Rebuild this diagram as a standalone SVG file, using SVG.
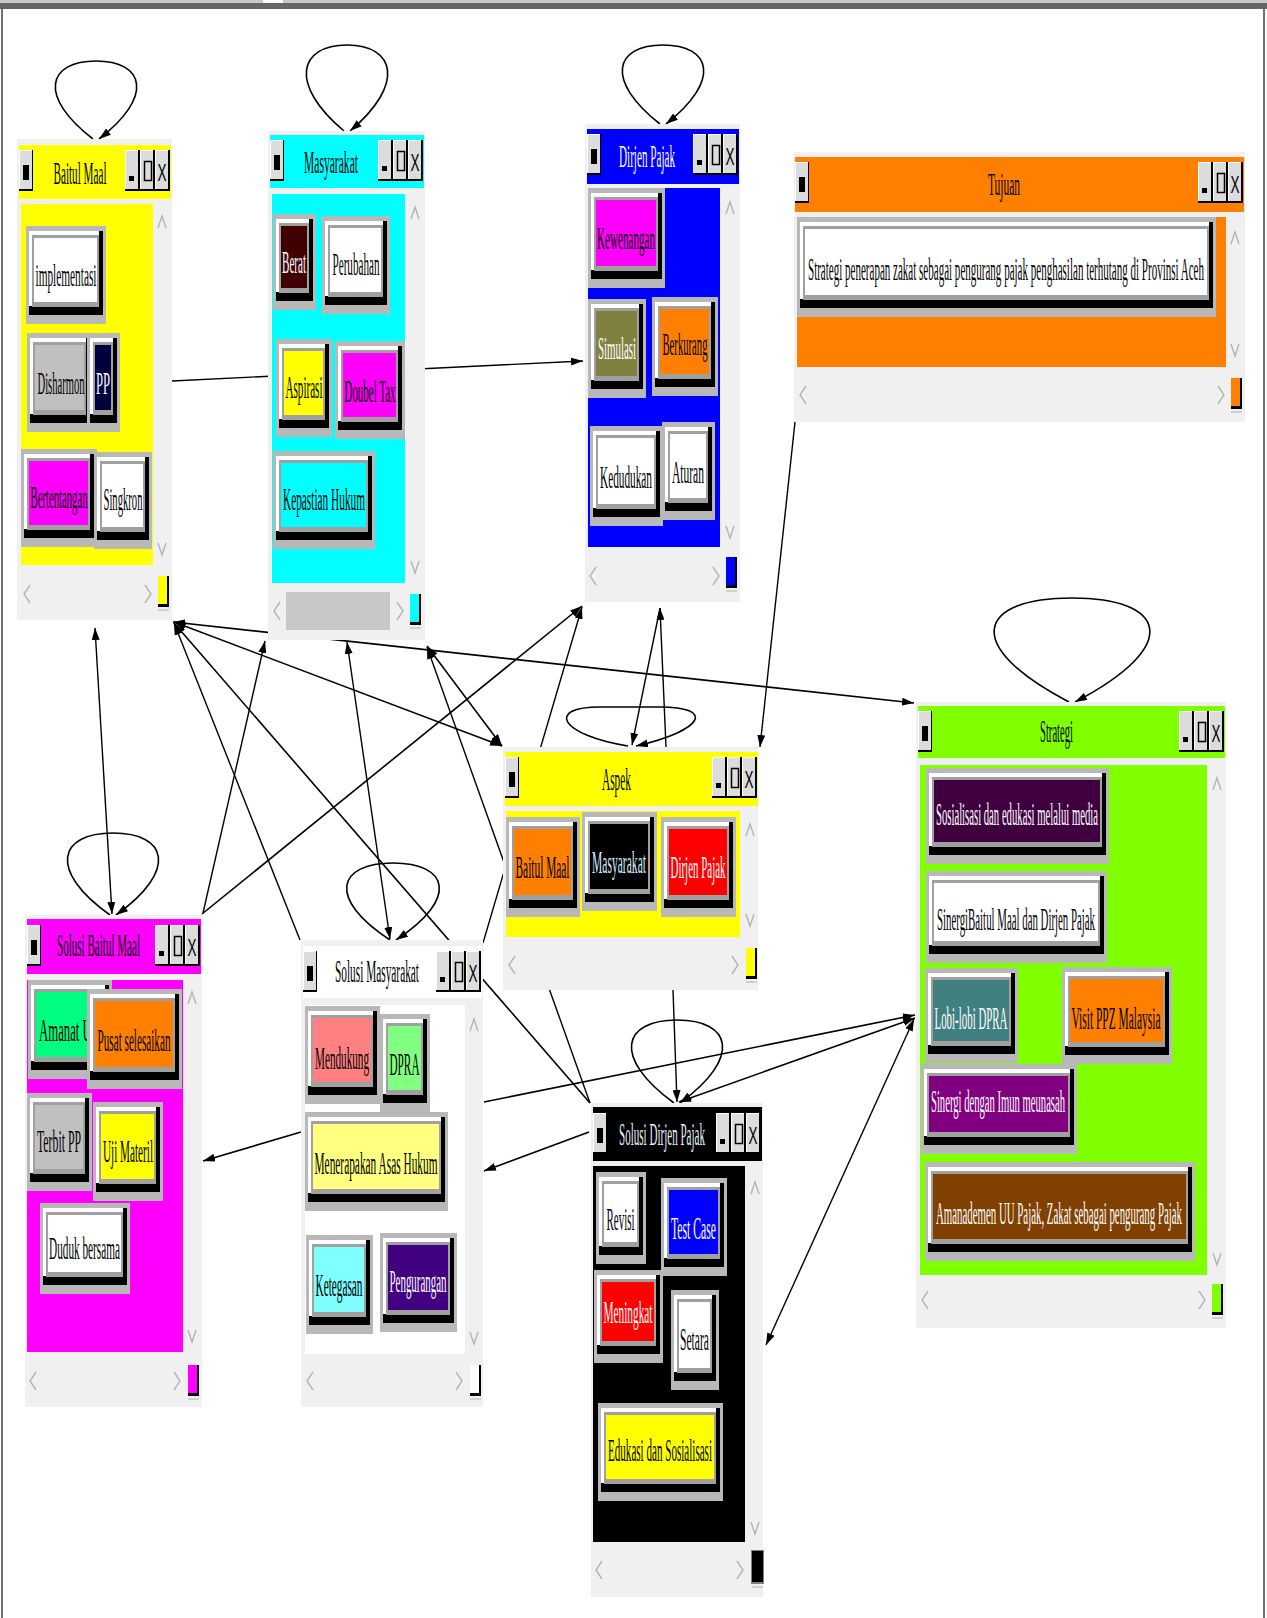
<svg xmlns="http://www.w3.org/2000/svg" width="1267" height="1618" viewBox="0 0 1267 1618">
<style>
  .fr{fill:#f0f0f0}
  .bf{fill:#b8b8b8}
  .bk{fill:#000}
  .wh{fill:#fff}
  .gy{fill:#a0a0a0}
  .t{font-family:"Liberation Serif","Times New Roman",serif;font-size:31px;text-anchor:middle;fill:#000}
  .tw{fill:#fff}
  .ln{stroke:#000;stroke-width:1.4;fill:none}
  .lp{stroke:#000;stroke-width:1.6;fill:none}
  .ch{stroke:#b4b4b4;stroke-width:1.4;fill:none}
  .cs{fill:#d0d0d0}
</style>
<defs>
  <marker id="ah" viewBox="0 0 12 8" refX="12" refY="4" markerWidth="12" markerHeight="8" markerUnits="userSpaceOnUse" orient="auto-start-reverse">
    <path d="M0,0 L12,4 L0,8 z" fill="#000"/>
  </marker>
  <!-- title bar controls: minimise, maximise, close -->
  <g id="ctl">
    <rect width="45" height="41" fill="#000"/>
    <rect x="0" width="13" height="39" fill="#fff"/><rect x="1" y="1" width="12" height="38" fill="#dcdcdc"/>
    <rect x="15" width="13" height="39" fill="#fff"/><rect x="16" y="1" width="12" height="38" fill="#dcdcdc"/>
    <rect x="30" width="13" height="39" fill="#fff"/><rect x="31" y="1" width="12" height="38" fill="#dcdcdc"/>
    <rect x="4" y="26" width="5" height="5" fill="#000"/>
    <rect x="19.5" y="11.5" width="7" height="19" fill="none" stroke="#000" stroke-width="1.5"/>
    <text x="37" y="31" font-family="Liberation Sans,Arial,sans-serif" font-size="24" text-anchor="middle" textLength="9" lengthAdjust="spacingAndGlyphs">X</text>
  </g>
  <!-- system menu button -->
  <g id="sys">
    <rect width="14" height="41" fill="#000"/>
    <rect width="13" height="39" fill="#fff"/>
    <rect x="1" y="1" width="12" height="38" fill="#dcdcdc"/>
    <rect x="4" y="15" width="6" height="15" fill="#000"/>
  </g>
  <!-- scrollbar chevrons -->
  <polyline id="up" class="ch" points="-4,6 0,-6 4,6"/>
  <polyline id="dn" class="ch" points="-4,-6 0,6 4,-6"/>
  <polyline id="lt" class="ch" points="3,-9 -3,0 3,9"/>
  <polyline id="rt" class="ch" points="-3,-9 3,0 -3,9"/>
</defs>

<!-- canvas -->
<rect width="1267" height="1618" fill="#fff"/>
<rect width="1267" height="3" fill="#c8c8c8"/>
<rect y="3" width="1267" height="6" fill="#666"/>
<rect x="263" width="20" height="3" fill="#fff"/>
<rect x="1" y="9" width="2" height="1609" fill="#707070"/>
<rect x="1263" y="9" width="2" height="1609" fill="#707070"/>

<g id="connectors">
  <path class="ln" d="M172,381 L583,361" marker-end="url(#ah)"/>
  <path class="ln" d="M795,422 L760,747" marker-end="url(#ah)"/>
  <path class="lp" d="M173,622 L914,703" marker-start="url(#ah)" marker-end="url(#ah)"/>
  <path class="lp" d="M174,622 L502,746" marker-start="url(#ah)" marker-end="url(#ah)"/>
  <path class="ln" d="M300,940 L174,623" marker-end="url(#ah)"/>
  <path class="lp" d="M174,623 L590,1103" marker-start="url(#ah)"/>
  <path class="ln" d="M95,628 L112,914" marker-start="url(#ah)" marker-end="url(#ah)"/>
  <path class="ln" d="M203,913 L265,641" marker-end="url(#ah)"/>
  <path class="ln" d="M390,939 L347,642" marker-start="url(#ah)" marker-end="url(#ah)"/>
  <path class="lp" d="M427,646 L502,746" marker-start="url(#ah)" marker-end="url(#ah)"/>
  <path class="ln" d="M590,1103 L427,647" marker-end="url(#ah)"/>
  <path class="lp" d="M202,914 L582,606" marker-end="url(#ah)"/>
  <path class="ln" d="M483,943 L582,607" marker-end="url(#ah)"/>
  <path class="ln" d="M660,608 L632,745" marker-end="url(#ah)"/>
  <path class="ln" d="M666,747 L660,608" marker-end="url(#ah)"/>
  <path class="ln" d="M673,990 L677,1102" marker-end="url(#ah)"/>
  <path class="lp" d="M301,1132 L203,1161" marker-end="url(#ah)"/>
  <path class="lp" d="M589,1132 L484,1171" marker-end="url(#ah)"/>
  <path class="lp" d="M484,1102 L915,1015" marker-end="url(#ah)"/>
  <path class="lp" d="M915,1018 L679,1102" marker-start="url(#ah)" marker-end="url(#ah)"/>
  <path class="ln" d="M914,1019 L766,1345" marker-start="url(#ah)" marker-end="url(#ah)"/>
  <!-- self loops -->
  <path class="lp" d="M93,139 C37,96 48,61 96,61 C144,61 155,96 99,139" marker-end="url(#ah)"/>
  <path class="lp" d="M344,131 C288,84 299,45 347,45 C395,45 406,84 350,131" marker-end="url(#ah)"/>
  <path class="lp" d="M660,124 C604,80 615,45 663,45 C711,45 722,80 666,124" marker-end="url(#ah)"/>
  <path class="lp" d="M1069,702 C960,645 978,598 1072,598 C1166,598 1184,645 1075,702" marker-end="url(#ah)"/>
  <path class="lp" d="M110,915 C47,870 59,833 113,833 C167,833 179,870 116,915" marker-end="url(#ah)"/>
  <path class="lp" d="M390,940 C326,898 338,863 393,863 C448,863 460,898 396,940" marker-end="url(#ah)"/>
  <path class="lp" d="M674,1103 C611,1057 623,1020 677,1020 C731,1020 743,1057 680,1103" marker-end="url(#ah)"/>
  <path class="lp" d="M628,746 C560,735 545,707 600,707 L660,707 C715,707 705,730 636,746" marker-end="url(#ah)"/>
</g>

<!-- Baitul Maal -->
<g id="baitul-maal">
  <rect class="fr" x="17" y="139" width="155" height="481"/>
  <rect fill="#ffff00" x="19" y="145" width="152" height="54"/>
  <use href="#sys" x="19" y="150"/>
  <use href="#ctl" x="125" y="150"/>
  <text class="t" x="80" y="184" textLength="53" lengthAdjust="spacingAndGlyphs">Baitul Maal</text>
  <rect fill="#ffff00" x="21" y="204" width="132" height="361"/>
  <use href="#up" x="162" y="222"/><use href="#dn" x="162" y="549"/>
  <use href="#lt" x="27" y="594"/><use href="#rt" x="148" y="594"/>
  <rect class="bk" x="158" y="576" width="11" height="31"/><rect fill="#ffff00" x="158" y="576" width="9" height="28"/><rect class="cs" x="158" y="609" width="11" height="2"/>
  <g><rect class="bf" x="26" y="226" width="80" height="98"/><rect class="bk" x="29" y="231" width="74" height="84"/><rect class="wh" x="29" y="231" width="70" height="75"/><rect class="gy" x="32" y="235" width="67" height="72"/><rect fill="#fff" x="34" y="238" width="63" height="64"/>
  <text class="t" x="66" y="286" textLength="61" lengthAdjust="spacingAndGlyphs">implementasi</text></g>
  <g><rect class="bf" x="27" y="333" width="66" height="99"/><rect class="bk" x="30" y="338" width="60" height="85"/><rect class="wh" x="30" y="338" width="56" height="76"/><rect class="gy" x="33" y="342" width="53" height="73"/><rect fill="#c0c0c0" x="35" y="345" width="49" height="65"/>
  <text class="t" x="61" y="394" textLength="47" lengthAdjust="spacingAndGlyphs">Disharmon</text></g>
  <g><rect class="bf" x="87" y="333" width="33" height="99"/><rect class="bk" x="90" y="338" width="27" height="85"/><rect class="wh" x="90" y="338" width="23" height="76"/><rect class="gy" x="93" y="342" width="20" height="73"/><rect fill="#000040" x="95" y="345" width="16" height="65"/>
  <text class="t tw" x="103" y="394" textLength="14" lengthAdjust="spacingAndGlyphs">PP</text></g>
  <g><rect class="bf" x="21" y="449" width="76" height="98"/><rect class="bk" x="24" y="454" width="70" height="84"/><rect class="wh" x="24" y="454" width="66" height="75"/><rect class="gy" x="27" y="458" width="63" height="72"/><rect fill="#ff00ff" x="29" y="461" width="59" height="64"/>
  <text class="t" x="59" y="508" textLength="57" lengthAdjust="spacingAndGlyphs">Bertentangan</text></g>
  <g><rect class="bf" x="94" y="452" width="58" height="97"/><rect class="bk" x="97" y="457" width="52" height="83"/><rect class="wh" x="97" y="457" width="48" height="74"/><rect class="gy" x="100" y="461" width="45" height="71"/><rect fill="#fff" x="102" y="464" width="41" height="63"/>
  <text class="t" x="123" y="510" textLength="39" lengthAdjust="spacingAndGlyphs">Singkron</text></g>
</g>

<!-- Masyarakat -->
<g id="masyarakat">
  <rect class="fr" x="268" y="131" width="157" height="509"/>
  <rect fill="#00ffff" x="270" y="135" width="154" height="53"/>
  <use href="#sys" x="270" y="140"/>
  <use href="#ctl" x="378" y="140"/>
  <text class="t" x="331" y="173" textLength="54" lengthAdjust="spacingAndGlyphs">Masyarakat</text>
  <rect fill="#00ffff" x="272" y="194" width="133" height="389"/>
  <use href="#up" x="415" y="213"/><use href="#dn" x="415" y="567"/>
  <rect fill="#c8c8c8" x="286" y="592" width="104" height="38"/>
  <use href="#lt" x="277" y="611"/><use href="#rt" x="400" y="611"/>
  <rect class="bk" x="410" y="594" width="11" height="31"/><rect fill="#00ffff" x="410" y="594" width="9" height="28"/><rect class="cs" x="410" y="627" width="11" height="2"/>
  <g><rect class="bf" x="273" y="214" width="43" height="96"/><rect class="bk" x="276" y="219" width="37" height="82"/><rect class="wh" x="276" y="219" width="33" height="73"/><rect class="gy" x="279" y="223" width="30" height="70"/><rect fill="#400000" x="281" y="226" width="26" height="62"/>
  <text class="t tw" x="294" y="273" textLength="24" lengthAdjust="spacingAndGlyphs">Berat</text></g>
  <g><rect class="bf" x="322" y="216" width="68" height="98"/><rect class="bk" x="325" y="221" width="62" height="84"/><rect class="wh" x="325" y="221" width="58" height="75"/><rect class="gy" x="328" y="225" width="55" height="72"/><rect fill="#fff" x="330" y="228" width="51" height="64"/>
  <text class="t" x="356" y="275" textLength="47" lengthAdjust="spacingAndGlyphs">Perubahan</text></g>
  <g><rect class="bf" x="276" y="339" width="56" height="98"/><rect class="bk" x="279" y="344" width="50" height="84"/><rect class="wh" x="279" y="344" width="46" height="75"/><rect class="gy" x="282" y="348" width="43" height="72"/><rect fill="#ffff00" x="284" y="351" width="39" height="64"/>
  <text class="t" x="304" y="398" textLength="37" lengthAdjust="spacingAndGlyphs">Aspirasi</text></g>
  <g><rect class="bf" x="335" y="341" width="70" height="98"/><rect class="bk" x="338" y="346" width="64" height="84"/><rect class="wh" x="338" y="346" width="60" height="75"/><rect class="gy" x="341" y="350" width="57" height="72"/><rect fill="#ff00ff" x="343" y="353" width="53" height="64"/>
  <text class="t" x="370" y="402" textLength="51" lengthAdjust="spacingAndGlyphs">Doubel Tax</text></g>
  <g><rect class="bf" x="273" y="451" width="102" height="98"/><rect class="bk" x="276" y="456" width="96" height="84"/><rect class="wh" x="276" y="456" width="92" height="75"/><rect class="gy" x="279" y="460" width="89" height="72"/><rect fill="#00ffff" x="281" y="463" width="85" height="64"/>
  <text class="t" x="324" y="510" textLength="82" lengthAdjust="spacingAndGlyphs">Kepastian Hukum</text></g>
</g>

<!-- Dirjen Pajak -->
<g id="dirjen-pajak">
  <rect class="fr" x="585" y="124" width="155" height="478"/>
  <rect fill="#0000ff" x="587" y="129" width="152" height="55"/>
  <use href="#sys" x="587" y="134"/>
  <use href="#ctl" x="693" y="134"/>
  <text class="t tw" x="647" y="167" textLength="56" lengthAdjust="spacingAndGlyphs">Dirjen Pajak</text>
  <rect fill="#0000ff" x="588" y="188" width="132" height="359"/>
  <use href="#up" x="730" y="208"/><use href="#dn" x="730" y="532"/>
  <use href="#lt" x="593" y="576"/><use href="#rt" x="716" y="576"/>
  <rect class="bk" x="726" y="557" width="11" height="31"/><rect fill="#0000ff" x="726" y="557" width="9" height="28"/><rect class="cs" x="726" y="590" width="11" height="2"/>
  <g><rect class="bf" x="588" y="188" width="77" height="100"/><rect class="bk" x="591" y="193" width="71" height="86"/><rect class="wh" x="591" y="193" width="67" height="77"/><rect class="gy" x="594" y="197" width="64" height="74"/><rect fill="#ff00ff" x="596" y="200" width="60" height="66"/>
  <text class="t" x="626" y="249" textLength="58" lengthAdjust="spacingAndGlyphs">Kewenangan</text></g>
  <g><rect class="bf" x="588" y="299" width="58" height="99"/><rect class="bk" x="591" y="304" width="52" height="85"/><rect class="wh" x="591" y="304" width="48" height="76"/><rect class="gy" x="594" y="308" width="45" height="73"/><rect fill="#808040" x="596" y="311" width="41" height="65"/>
  <text class="t tw" x="617" y="359" textLength="38" lengthAdjust="spacingAndGlyphs">Simulasi</text></g>
  <g><rect class="bf" x="652" y="297" width="66" height="99"/><rect class="bk" x="655" y="302" width="60" height="85"/><rect class="wh" x="655" y="302" width="56" height="76"/><rect class="gy" x="658" y="306" width="53" height="73"/><rect fill="#ff8000" x="660" y="309" width="49" height="65"/>
  <text class="t" x="685" y="355" textLength="45" lengthAdjust="spacingAndGlyphs">Berkurang</text></g>
  <g><rect class="bf" x="590" y="426" width="73" height="100"/><rect class="bk" x="593" y="431" width="67" height="86"/><rect class="wh" x="593" y="431" width="63" height="77"/><rect class="gy" x="596" y="435" width="60" height="74"/><rect fill="#fff" x="598" y="438" width="56" height="66"/>
  <text class="t" x="626" y="488" textLength="52" lengthAdjust="spacingAndGlyphs">Kedudukan</text></g>
  <g><rect class="bf" x="662" y="422" width="53" height="98"/><rect class="bk" x="665" y="427" width="47" height="84"/><rect class="wh" x="665" y="427" width="43" height="75"/><rect class="gy" x="668" y="431" width="40" height="72"/><rect fill="#fff" x="670" y="434" width="36" height="64"/>
  <text class="t" x="688" y="483" textLength="32" lengthAdjust="spacingAndGlyphs">Aturan</text></g>
</g>

<!-- Tujuan -->
<g id="tujuan">
  <rect class="fr" x="794" y="152" width="451" height="270"/>
  <rect fill="#ff8000" x="795" y="157" width="449" height="55"/>
  <use href="#sys" x="795" y="162"/>
  <use href="#ctl" x="1198" y="162"/>
  <text class="t" x="1004" y="195" textLength="32" lengthAdjust="spacingAndGlyphs">Tujuan</text>
  <rect fill="#ff8000" x="797" y="217" width="429" height="150"/>
  <use href="#up" x="1235" y="238"/><use href="#dn" x="1235" y="350"/>
  <use href="#lt" x="803" y="395"/><use href="#rt" x="1221" y="395"/>
  <rect class="bk" x="1231" y="378" width="11" height="31"/><rect fill="#ff8000" x="1231" y="378" width="9" height="28"/><rect class="cs" x="1231" y="411" width="11" height="2"/>
  <g><rect class="bf" x="797" y="217" width="419" height="100"/><rect class="bk" x="800" y="222" width="413" height="86"/><rect class="wh" x="800" y="222" width="409" height="77"/><rect class="gy" x="803" y="226" width="406" height="74"/><rect fill="#fff" x="805" y="229" width="402" height="66"/>
  <text class="t" x="1006" y="280" textLength="396" lengthAdjust="spacingAndGlyphs">Strategi penerapan zakat sebagai pengurang pajak penghasilan terhutang di Provinsi Aceh</text></g>
</g>

<!-- Aspek -->
<g id="aspek">
  <rect class="fr" x="503" y="747" width="255" height="243"/>
  <rect fill="#ffff00" x="505" y="752" width="253" height="54"/>
  <use href="#sys" x="505" y="757"/>
  <use href="#ctl" x="712" y="757"/>
  <text class="t" x="616.5" y="790" textLength="29" lengthAdjust="spacingAndGlyphs">Aspek</text>
  <rect fill="#ffff00" x="506" y="811" width="234" height="126"/>
  <use href="#up" x="750" y="830"/><use href="#dn" x="750" y="920"/>
  <use href="#lt" x="512" y="965"/><use href="#rt" x="735" y="965"/>
  <rect class="bk" x="746" y="948" width="11" height="31"/><rect fill="#ffff00" x="746" y="948" width="9" height="28"/><rect class="cs" x="746" y="981" width="11" height="2"/>
  <g><rect class="bf" x="506" y="817" width="74" height="100"/><rect class="bk" x="509" y="822" width="68" height="86"/><rect class="wh" x="509" y="822" width="64" height="77"/><rect class="gy" x="512" y="826" width="61" height="74"/><rect fill="#ff8000" x="514" y="829" width="57" height="66"/>
  <text class="t" x="542.5" y="878" textLength="54" lengthAdjust="spacingAndGlyphs">Baitul Maal</text></g>
  <g><rect class="bf" x="582" y="812" width="75" height="99"/><rect class="bk" x="585" y="817" width="69" height="85"/><rect class="wh" x="585" y="817" width="65" height="76"/><rect class="gy" x="588" y="821" width="62" height="73"/><rect fill="#000" x="590" y="824" width="58" height="65"/>
  <text class="t" x="619" y="873" textLength="54" lengthAdjust="spacingAndGlyphs" style="fill:#d8ecff">Masyarakat</text></g>
  <g><rect class="bf" x="661" y="817" width="75" height="100"/><rect class="bk" x="664" y="822" width="69" height="86"/><rect class="wh" x="664" y="822" width="65" height="77"/><rect class="gy" x="667" y="826" width="62" height="74"/><rect fill="#ff0000" x="669" y="829" width="58" height="66"/>
  <text class="t tw" x="698" y="878" textLength="55" lengthAdjust="spacingAndGlyphs">Dirjen Pajak</text></g>
</g>

<!-- Strategi -->
<g id="strategi">
  <rect class="fr" x="916" y="702" width="310" height="626"/>
  <rect fill="#80ff00" x="918" y="706" width="307" height="52"/>
  <use href="#sys" x="918" y="711"/>
  <use href="#ctl" x="1179" y="711"/>
  <text class="t" x="1056.5" y="742" textLength="33" lengthAdjust="spacingAndGlyphs">Strategi</text>
  <rect fill="#80ff00" x="920" y="765" width="287" height="510"/>
  <use href="#up" x="1217" y="784"/><use href="#dn" x="1217" y="1259"/>
  <use href="#lt" x="925" y="1300"/><use href="#rt" x="1202" y="1300"/>
  <rect class="bk" x="1212" y="1284" width="11" height="31"/><rect fill="#80ff00" x="1212" y="1284" width="9" height="28"/><rect class="cs" x="1212" y="1317" width="11" height="2"/>
  <g><rect class="bf" x="926" y="768" width="183" height="96"/><rect class="bk" x="929" y="773" width="177" height="82"/><rect class="wh" x="929" y="773" width="173" height="73"/><rect class="gy" x="932" y="777" width="170" height="70"/><rect fill="#400040" x="934" y="780" width="166" height="62"/>
  <text class="t tw" x="1017" y="825" textLength="162" lengthAdjust="spacingAndGlyphs">Sosialisasi dan edukasi melalui media</text></g>
  <g><rect class="bf" x="926" y="871" width="181" height="92"/><rect class="bk" x="929" y="876" width="175" height="78"/><rect class="wh" x="929" y="876" width="171" height="69"/><rect class="gy" x="932" y="880" width="168" height="66"/><rect fill="#fff" x="934" y="883" width="164" height="58"/>
  <text class="t" x="1016" y="930" textLength="158" lengthAdjust="spacingAndGlyphs">SinergiBaitul Maal dan Dirjen Pajak</text></g>
  <g><rect class="bf" x="925" y="968" width="93" height="95"/><rect class="bk" x="928" y="973" width="87" height="81"/><rect class="wh" x="928" y="973" width="83" height="72"/><rect class="gy" x="931" y="977" width="80" height="69"/><rect fill="#408080" x="933" y="980" width="76" height="61"/>
  <text class="t tw" x="971" y="1029" textLength="73" lengthAdjust="spacingAndGlyphs">Lobi-lobi DPRA</text></g>
  <g><rect class="bf" x="1062" y="967" width="110" height="97"/><rect class="bk" x="1065" y="972" width="104" height="83"/><rect class="wh" x="1065" y="972" width="100" height="74"/><rect class="gy" x="1068" y="976" width="97" height="71"/><rect fill="#ff8000" x="1070" y="979" width="93" height="63"/>
  <text class="t" x="1116" y="1029" textLength="89" lengthAdjust="spacingAndGlyphs">Visit PPZ Malaysia</text></g>
  <g><rect class="bf" x="921" y="1064" width="156" height="90"/><rect class="bk" x="924" y="1069" width="150" height="76"/><rect class="wh" x="924" y="1069" width="146" height="67"/><rect class="gy" x="927" y="1073" width="143" height="64"/><rect fill="#800080" x="929" y="1076" width="139" height="56"/>
  <text class="t tw" x="998" y="1112" textLength="134" lengthAdjust="spacingAndGlyphs">Sinergi dengan Imun meunasah</text></g>
  <g><rect class="bf" x="925" y="1162" width="270" height="99"/><rect class="bk" x="928" y="1167" width="264" height="85"/><rect class="wh" x="928" y="1167" width="260" height="76"/><rect class="gy" x="931" y="1171" width="257" height="73"/><rect fill="#804000" x="933" y="1174" width="253" height="65"/>
  <text class="t tw" x="1059" y="1224" textLength="246" lengthAdjust="spacingAndGlyphs">Amanademen UU Pajak, Zakat sebagai pengurang Pajak</text></g>
</g>

<!-- Solusi Baitul Maal -->
<g id="solusi-baitul-maal">
  <rect class="fr" x="25" y="915" width="177" height="492"/>
  <rect fill="#ff00ff" x="27" y="919" width="174" height="55"/>
  <use href="#sys" x="27" y="925"/>
  <use href="#ctl" x="155" y="925"/>
  <text class="t" x="98.5" y="956" textLength="83" lengthAdjust="spacingAndGlyphs">Solusi Baitul Maal</text>
  <rect fill="#ff00ff" x="27" y="980" width="156" height="372"/>
  <use href="#up" x="192" y="998"/><use href="#dn" x="192" y="1336"/>
  <use href="#lt" x="33" y="1381"/><use href="#rt" x="177" y="1381"/>
  <rect class="bk" x="188" y="1365" width="11" height="31"/><rect fill="#ff00ff" x="188" y="1365" width="9" height="28"/><rect class="cs" x="188" y="1398" width="11" height="2"/>
  <g><rect class="bf" x="28" y="980" width="84" height="99"/><rect class="bk" x="31" y="985" width="78" height="85"/><rect class="wh" x="31" y="985" width="74" height="76"/><rect class="gy" x="34" y="989" width="71" height="73"/><rect fill="#00ff80" x="36" y="992" width="67" height="65"/>
  <text class="t" x="39" y="1041" textLength="62" lengthAdjust="spacingAndGlyphs" style="text-anchor:start">Amanat UU</text></g>
  <g><rect class="bf" x="87" y="989" width="95" height="100"/><rect class="bk" x="90" y="994" width="89" height="86"/><rect class="wh" x="90" y="994" width="85" height="77"/><rect class="gy" x="93" y="998" width="82" height="74"/><rect fill="#ff8000" x="95" y="1001" width="78" height="66"/>
  <text class="t" x="134" y="1051" textLength="73" lengthAdjust="spacingAndGlyphs">Pusat selesaikan</text></g>
  <g><rect class="bf" x="27" y="1093" width="65" height="98"/><rect class="bk" x="30" y="1098" width="59" height="84"/><rect class="wh" x="30" y="1098" width="55" height="75"/><rect class="gy" x="33" y="1102" width="52" height="72"/><rect fill="#c0c0c0" x="35" y="1105" width="48" height="64"/>
  <text class="t" x="59" y="1152" textLength="44" lengthAdjust="spacingAndGlyphs">Terbit PP</text></g>
  <g><rect class="bf" x="93" y="1102" width="70" height="99"/><rect class="bk" x="96" y="1107" width="64" height="85"/><rect class="wh" x="96" y="1107" width="60" height="76"/><rect class="gy" x="99" y="1111" width="57" height="73"/><rect fill="#ffff00" x="101" y="1114" width="53" height="65"/>
  <text class="t" x="128" y="1162" textLength="50" lengthAdjust="spacingAndGlyphs">Uji Materil</text></g>
  <g><rect class="bf" x="40" y="1203" width="90" height="91"/><rect class="bk" x="43" y="1208" width="84" height="77"/><rect class="wh" x="43" y="1208" width="80" height="68"/><rect class="gy" x="46" y="1212" width="77" height="65"/><rect fill="#fff" x="48" y="1215" width="73" height="57"/>
  <text class="t" x="84.5" y="1259" textLength="71" lengthAdjust="spacingAndGlyphs">Duduk bersama</text></g>
</g>

<!-- Solusi Masyarakat -->
<g id="solusi-masyarakat">
  <rect class="fr" x="301" y="940" width="182" height="467"/>
  <rect fill="#fff" x="303" y="946" width="179" height="52"/>
  <use href="#sys" x="303" y="951"/>
  <use href="#ctl" x="436" y="951"/>
  <text class="t" x="377" y="982" textLength="84" lengthAdjust="spacingAndGlyphs">Solusi Masyarakat</text>
  <rect fill="#fff" x="305" y="1005" width="160" height="349"/>
  <use href="#up" x="474" y="1025"/><use href="#dn" x="474" y="1338"/>
  <use href="#lt" x="310" y="1381"/><use href="#rt" x="459" y="1381"/>
  <rect class="bk" x="470" y="1365" width="11" height="31"/><rect fill="#fff" x="470" y="1365" width="9" height="28"/><rect class="cs" x="470" y="1398" width="11" height="2"/>
  <g><rect class="bf" x="305" y="1006" width="75" height="98"/><rect class="bk" x="308" y="1011" width="69" height="84"/><rect class="wh" x="308" y="1011" width="65" height="75"/><rect class="gy" x="311" y="1015" width="62" height="72"/><rect fill="#ff8080" x="313" y="1018" width="58" height="64"/>
  <text class="t" x="342" y="1069" textLength="54" lengthAdjust="spacingAndGlyphs">Mendukung</text></g>
  <g><rect class="bf" x="380" y="1014" width="50" height="98"/><rect class="bk" x="383" y="1019" width="44" height="84"/><rect class="wh" x="383" y="1019" width="40" height="75"/><rect class="gy" x="386" y="1023" width="37" height="72"/><rect fill="#80ff80" x="388" y="1026" width="33" height="64"/>
  <text class="t" x="404.5" y="1075" textLength="30" lengthAdjust="spacingAndGlyphs">DPRA</text></g>
  <g><rect class="bf" x="305" y="1112" width="143" height="99"/><rect class="bk" x="308" y="1117" width="137" height="85"/><rect class="wh" x="308" y="1117" width="133" height="76"/><rect class="gy" x="311" y="1121" width="130" height="73"/><rect fill="#ffff80" x="313" y="1124" width="126" height="65"/>
  <text class="t" x="376" y="1174" textLength="123" lengthAdjust="spacingAndGlyphs">Menerapakan Asas Hukum</text></g>
  <g><rect class="bf" x="306" y="1235" width="67" height="99"/><rect class="bk" x="309" y="1240" width="61" height="85"/><rect class="wh" x="309" y="1240" width="57" height="76"/><rect class="gy" x="312" y="1244" width="54" height="73"/><rect fill="#80ffff" x="314" y="1247" width="50" height="65"/>
  <text class="t" x="339" y="1296" textLength="47" lengthAdjust="spacingAndGlyphs">Ketegasan</text></g>
  <g><rect class="bf" x="380" y="1233" width="77" height="99"/><rect class="bk" x="383" y="1238" width="71" height="85"/><rect class="wh" x="383" y="1238" width="67" height="76"/><rect class="gy" x="386" y="1242" width="64" height="73"/><rect fill="#400080" x="388" y="1245" width="60" height="65"/>
  <text class="t tw" x="418" y="1292" textLength="57" lengthAdjust="spacingAndGlyphs">Pengurangan</text></g>
</g>

<!-- Solusi Dirjen Pajak -->
<g id="solusi-dirjen-pajak">
  <rect class="fr" x="591" y="1103" width="172" height="494"/>
  <rect fill="#000" x="593" y="1107" width="169" height="54"/>
  <use href="#sys" x="593" y="1113"/>
  <use href="#ctl" x="716" y="1113"/>
  <text class="t" x="662" y="1145" textLength="86" lengthAdjust="spacingAndGlyphs" style="fill:#e6f0ff">Solusi Dirjen Pajak</text>
  <rect fill="#000" x="593" y="1166" width="152" height="376"/>
  <use href="#up" x="755" y="1188"/><use href="#dn" x="755" y="1528"/>
  <use href="#lt" x="599" y="1570"/><use href="#rt" x="740" y="1570"/>
  <rect fill="#808080" x="751" y="1550" width="13" height="34"/><rect fill="#000" x="752" y="1551" width="11" height="31"/><rect class="cs" x="752" y="1586" width="11" height="2"/>
  <g><rect class="bf" x="596" y="1172" width="50" height="92"/><rect class="bk" x="599" y="1177" width="44" height="78"/><rect class="wh" x="599" y="1177" width="40" height="69"/><rect class="gy" x="602" y="1181" width="37" height="66"/><rect fill="#fff" x="604" y="1184" width="33" height="58"/>
  <text class="t" x="620.5" y="1230" textLength="28" lengthAdjust="spacingAndGlyphs">Revisi</text></g>
  <g><rect class="bf" x="661" y="1178" width="66" height="98"/><rect class="bk" x="664" y="1183" width="60" height="84"/><rect class="wh" x="664" y="1183" width="56" height="75"/><rect class="gy" x="667" y="1187" width="53" height="72"/><rect fill="#0000ff" x="669" y="1190" width="49" height="64"/>
  <text class="t tw" x="693.5" y="1239" textLength="45" lengthAdjust="spacingAndGlyphs">Test Case</text></g>
  <g><rect class="bf" x="594" y="1270" width="69" height="93"/><rect class="bk" x="597" y="1275" width="63" height="79"/><rect class="wh" x="597" y="1275" width="59" height="70"/><rect class="gy" x="600" y="1279" width="56" height="67"/><rect fill="#ff0000" x="602" y="1282" width="52" height="59"/>
  <text class="t tw" x="628" y="1323" textLength="49" lengthAdjust="spacingAndGlyphs">Meningkat</text></g>
  <g><rect class="bf" x="671" y="1290" width="48" height="100"/><rect class="bk" x="674" y="1295" width="42" height="86"/><rect class="wh" x="674" y="1295" width="38" height="77"/><rect class="gy" x="677" y="1299" width="35" height="74"/><rect fill="#fff" x="679" y="1302" width="31" height="66"/>
  <text class="t" x="694.5" y="1350" textLength="29" lengthAdjust="spacingAndGlyphs">Setara</text></g>
  <g><rect class="bf" x="598" y="1403" width="125" height="98"/><rect class="bk" x="601" y="1408" width="119" height="84"/><rect class="wh" x="601" y="1408" width="115" height="75"/><rect class="gy" x="604" y="1412" width="112" height="72"/><rect fill="#ffff00" x="606" y="1415" width="108" height="64"/>
  <text class="t" x="660" y="1461" textLength="104" lengthAdjust="spacingAndGlyphs">Edukasi dan Sosialisasi</text></g>
</g>
</svg>
